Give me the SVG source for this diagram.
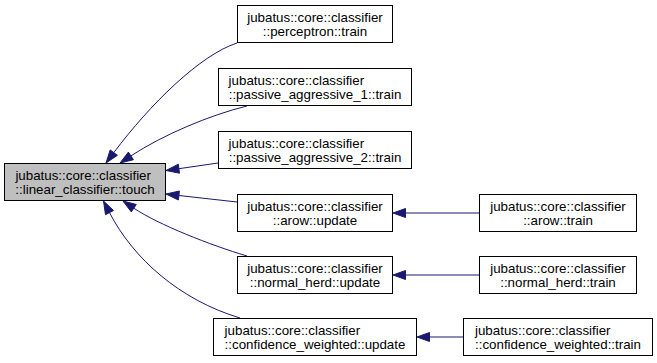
<svg xmlns="http://www.w3.org/2000/svg" width="657" height="363" viewBox="0 0 657 363">
  <style>
    .node rect { fill: #ffffff; stroke: #000000; stroke-width: 1; }
    #n_touch rect { fill: #bfbfbf; }
    .node text { font-family: "Liberation Sans", Arial, Helvetica, sans-serif; font-size: 13.33px; fill: #000000; }
    .node .l2 { text-anchor: middle; }
    .edges path { fill: none; stroke: #191970; stroke-width: 1; }
    .edges polygon { fill: #191970; stroke: #191970; stroke-width: 1; }
  </style>
  <rect width="657" height="363" fill="#ffffff"/>

  <!-- caller edges (arrowheads point at the callee) -->
  <g id="edges" class="edges">
    <path d="M237,43 C200,55 149.8,104.6 113.8,152.6"/>
    <polygon points="106,163 117.4,155.3 110.2,149.9"/>

    <path d="M247,106 C210,115 162.7,135 130.9,155.9"/>
    <polygon points="120,163 133.4,159.7 128.4,152.1"/>

    <path d="M218,163 L178.9,168.7"/>
    <polygon points="166,170.5 179.5,173.2 178.3,164.2"/>

    <path d="M237,202 L178.9,195.5"/>
    <polygon points="166,194 178.4,200 179.4,191"/>

    <path d="M247,256 C210,245 158.7,224.7 133.8,208.2"/>
    <polygon points="123,201 131.3,211.9 136.3,204.5"/>

    <path d="M240,318 C180,300 133.4,258.9 109.5,212.6"/>
    <polygon points="103.5,201 105.5,214.7 113.5,210.5"/>

    <path d="M479,213 L405.5,213"/>
    <polygon points="393,213 405.5,208.5 405.5,217.5"/>

    <path d="M479,275 L405.5,275"/>
    <polygon points="393,275 405.5,270.5 405.5,279.5"/>

    <path d="M463,337 L429.5,337"/>
    <polygon points="417,337 429.5,332.5 429.5,341.5"/>
  </g>

  <g id="n_touch" class="node">
    <rect x="4.5" y="163.5" width="161" height="37"/>
    <text x="15.4" y="180">jubatus::core::classifier</text>
    <text class="l2" x="85" y="194">::linear_classifier::touch</text>
  </g>

  <g id="n_perceptron_train" class="node">
    <rect x="237.5" y="5.5" width="155" height="37"/>
    <text x="247.2" y="22">jubatus::core::classifier</text>
    <text class="l2" x="315" y="36">::perceptron::train</text>
  </g>

  <g id="n_pa1_train" class="node">
    <rect x="218.5" y="68.5" width="193" height="37"/>
    <text x="228.6" y="85">jubatus::core::classifier</text>
    <text class="l2" x="315" y="99">::passive_aggressive_1::train</text>
  </g>

  <g id="n_pa2_train" class="node">
    <rect x="218.5" y="131.5" width="193" height="37"/>
    <text x="228.6" y="148">jubatus::core::classifier</text>
    <text class="l2" x="315" y="162">::passive_aggressive_2::train</text>
  </g>

  <g id="n_arow_update" class="node">
    <rect x="237.5" y="194.5" width="155" height="37"/>
    <text x="247.2" y="211">jubatus::core::classifier</text>
    <text class="l2" x="315" y="225">::arow::update</text>
  </g>

  <g id="n_nherd_update" class="node">
    <rect x="237.5" y="256.5" width="155" height="37"/>
    <text x="247.2" y="273">jubatus::core::classifier</text>
    <text class="l2" x="315" y="287">::normal_herd::update</text>
  </g>

  <g id="n_cw_update" class="node">
    <rect x="213.5" y="318.5" width="203" height="37"/>
    <text x="224.6" y="335">jubatus::core::classifier</text>
    <text class="l2" x="315" y="349">::confidence_weighted::update</text>
  </g>

  <g id="n_arow_train" class="node">
    <rect x="479.5" y="194.5" width="157" height="37"/>
    <text x="490.2" y="211">jubatus::core::classifier</text>
    <text class="l2" x="558" y="225">::arow::train</text>
  </g>

  <g id="n_nherd_train" class="node">
    <rect x="479.5" y="256.5" width="157" height="37"/>
    <text x="490.2" y="273">jubatus::core::classifier</text>
    <text class="l2" x="558" y="287">::normal_herd::train</text>
  </g>

  <g id="n_cw_train" class="node">
    <rect x="463.5" y="318.5" width="189" height="37"/>
    <text x="475" y="335">jubatus::core::classifier</text>
    <text class="l2" x="558" y="349">::confidence_weighted::train</text>
  </g>
</svg>
